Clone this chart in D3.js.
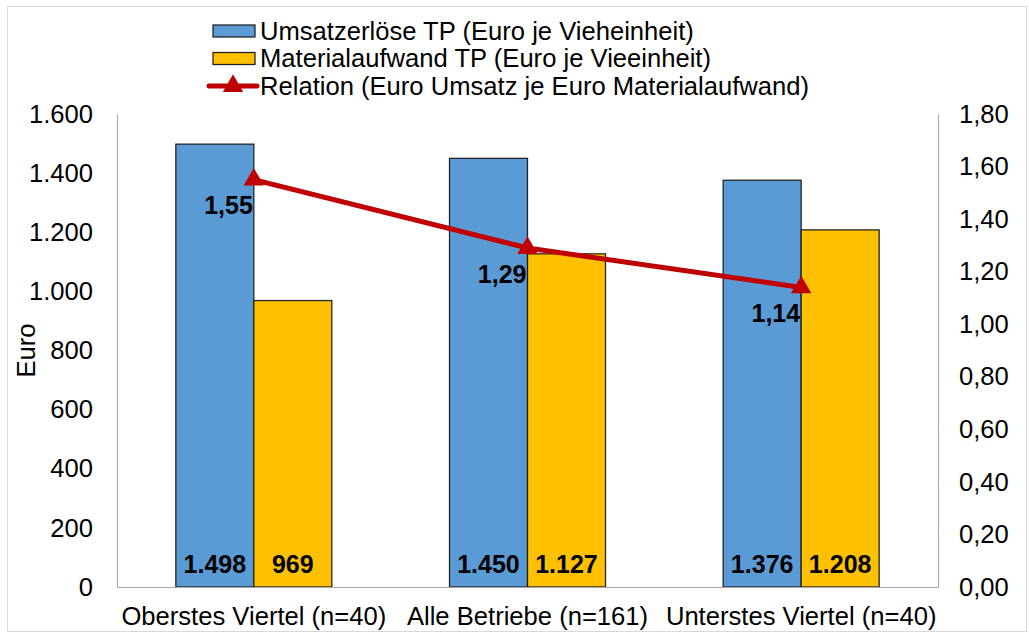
<!DOCTYPE html>
<html>
<head>
<meta charset="utf-8">
<script src="https://d3js.org/d3.v7.min.js"></script>
<style>
    body { margin: 0; background: #fff; }
    svg { font-family: "Liberation Sans", Arial, sans-serif; }
</style>
</head>
<body>
<svg width="1029" height="634"></svg>
<script>
// data
var categories = ["Oberstes Viertel (n=40)", "Alle Betriebe (n=161)", "Unterstes Viertel (n=40)"];
var seriesNames = ["Umsatzerlöse TP (Euro je Vieheinheit)", "Materialaufwand TP (Euro je Vieeinheit)"];
var lineName = "Relation (Euro Umsatz je Euro Materialaufwand)";
var umsatz = [1498, 1450, 1376];
var material = [969, 1127, 1208];
var relation = [1.55, 1.29, 1.14];
var leftTicks = [0, 200, 400, 600, 800, 1000, 1200, 1400, 1600];
var rightTicks = [0, 0.2, 0.4, 0.6, 0.8, 1.0, 1.2, 1.4, 1.6, 1.8];
var axisTitle = "Euro";

var colors = ["#5b9bd5", "#ffc000"];
var lineColor = "#c00000";
var fontSize = 25.6;

var svg = d3.select("svg"),
    plot = { left: 117, right: 938, top: 114, bottom: 587 };

// german number format: 1.600 and 1,80
var de = d3.formatLocale({ decimal: ",", thousands: ".", grouping: [3], currency: ["", " €"] });
var fmtInt = de.format(",.0f"),
    fmtDec = de.format(",.2f");

var x = d3.scaleBand().domain(categories).range([plot.left, plot.right])
    .paddingInner(0.43).paddingOuter(0.215);
var xs = d3.scaleBand().domain([0, 1]).range([0, x.bandwidth()]);
var yL = d3.scaleLinear().domain([0, 1600]).range([plot.bottom, plot.top]);
var yR = d3.scaleLinear().domain([0, 1.8]).range([plot.bottom, plot.top]);

// outer frame
svg.append("rect")
    .attr("x", 7.5).attr("y", 6.5)
    .attr("width", 1019).attr("height", 625)
    .attr("fill", "none").attr("stroke", "#d9d9d9");

var rows = categories.map(function (c, i) {
    return { cat: c, values: [umsatz[i], material[i]], rel: relation[i] };
});

// bars
var group = svg.selectAll(".cat")
    .data(rows)
    .enter().append("g")
    .attr("class", "cat")
    .attr("transform", function (d) { return "translate(" + x(d.cat) + ",0)"; });

group.selectAll("rect")
    .data(function (d) { return d.values; })
    .enter().append("rect")
    .attr("x", function (d, i) { return xs(i); })
    .attr("y", function (d) { return yL(d); })
    .attr("width", xs.bandwidth())
    .attr("height", function (d) { return yL(0) - yL(d); })
    .attr("fill", function (d, i) { return colors[i]; })
    .attr("stroke", "#1f1f1f")
    .attr("stroke-width", 1.25);

group.selectAll("text")
    .data(function (d) { return d.values; })
    .enter().append("text")
    .attr("x", function (d, i) { return xs(i) + xs.bandwidth() / 2; })
    .attr("y", yL(0) - 14)
    .attr("text-anchor", "middle")
    .attr("font-size", 25)
    .attr("font-weight", "bold")
    .text(function (d) { return fmtInt(d); });

// axes
function styleAxis(g) {
    g.attr("font-size", fontSize).attr("font-family", null);
    g.select(".domain").attr("stroke", "#a6a6a6");
    g.selectAll("text").attr("fill", "#000");
}

svg.append("g")
    .attr("transform", "translate(" + plot.left + ",0)")
    .call(d3.axisLeft(yL).tickValues(leftTicks).tickFormat(fmtInt).tickSize(0).tickPadding(24))
    .call(styleAxis);

svg.append("g")
    .attr("transform", "translate(" + plot.right + ",0)")
    .call(d3.axisRight(yR).tickValues(rightTicks).tickFormat(fmtDec).tickSize(0).tickPadding(21))
    .call(styleAxis);

svg.append("g")
    .attr("transform", "translate(0," + plot.bottom + ")")
    .call(d3.axisBottom(x).tickSize(0).tickPadding(20))
    .call(styleAxis);

svg.append("text")
    .attr("transform", "translate(26," + (plot.top + plot.bottom) / 2 + ") rotate(-90)")
    .attr("text-anchor", "middle")
    .attr("dy", "0.35em")
    .attr("font-size", fontSize)
    .text(axisTitle);

// relation line
var cx = function (d) { return x(d.cat) + x.bandwidth() / 2; };

svg.append("path")
    .datum(rows)
    .attr("fill", "none")
    .attr("stroke", lineColor)
    .attr("stroke-width", 5)
    .attr("d", d3.line().x(cx).y(function (d) { return yR(d.rel); }));

var triangle = d3.symbol(d3.symbolTriangle).size(180);

svg.selectAll(".marker")
    .data(rows)
    .enter().append("path")
    .attr("class", "marker")
    .attr("transform", function (d) { return "translate(" + cx(d) + "," + yR(d.rel) + ")"; })
    .attr("d", triangle)
    .attr("fill", lineColor);

svg.selectAll(".rel-label")
    .data(rows)
    .enter().append("text")
    .attr("class", "rel-label")
    .attr("x", function (d) { return cx(d) - 1; })
    .attr("y", function (d) { return yR(d.rel) + 26; })
    .attr("dy", "0.35em")
    .attr("text-anchor", "end")
    .attr("font-size", 25)
    .attr("font-weight", "bold")
    .text(function (d) { return fmtDec(d.rel); });

// legend
var legend = svg.append("g");
var rowH = 27.5, ly0 = 31;

seriesNames.forEach(function (name, i) {
    legend.append("rect")
        .attr("x", 213).attr("y", ly0 + i * rowH - 6)
        .attr("width", 42).attr("height", 12)
        .attr("fill", colors[i])
        .attr("stroke", "#1f1f1f")
        .attr("stroke-width", 1.25);
    legend.append("text")
        .attr("x", 260).attr("y", ly0 + i * rowH)
        .attr("dy", "0.35em")
        .attr("font-size", fontSize)
        .text(name);
});

var ly2 = ly0 + 2 * rowH;
legend.append("line")
    .attr("x1", 209).attr("x2", 257)
    .attr("y1", ly2).attr("y2", ly2)
    .attr("stroke", lineColor)
    .attr("stroke-width", 5)
    .attr("stroke-linecap", "round");
legend.append("path")
    .attr("transform", "translate(233," + ly2 + ")")
    .attr("d", triangle)
    .attr("fill", lineColor);
legend.append("text")
    .attr("x", 260).attr("y", ly2)
    .attr("dy", "0.35em")
    .attr("font-size", fontSize)
    .text(lineName);
</script>
</body>
</html>
